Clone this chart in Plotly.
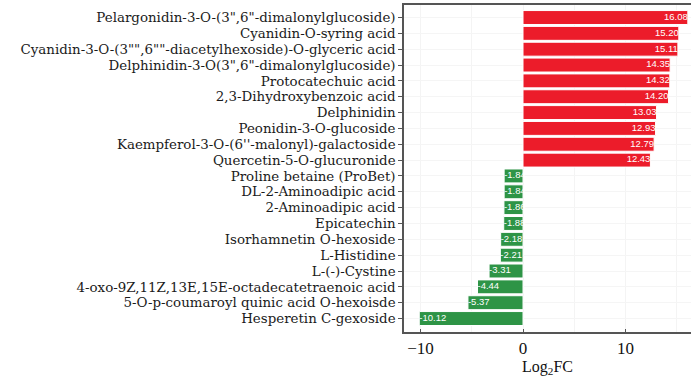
import plotly.graph_objects as go

compounds = [
    'Pelargonidin-3-O-(3",6"-dimalonylglucoside)',
    "Cyanidin-O-syring acid",
    'Cyanidin-3-O-(3"",6""-diacetylhexoside)-O-glyceric acid',
    'Delphinidin-3-O(3",6"-dimalonylglucoside)',
    "Protocatechuic acid",
    "2,3-Dihydroxybenzoic acid",
    "Delphinidin",
    "Peonidin-3-O-glucoside",
    "Kaempferol-3-O-(6''-malonyl)-galactoside",
    "Quercetin-5-O-glucuronide",
    "Proline betaine (ProBet)",
    "DL-2-Aminoadipic acid",
    "2-Aminoadipic acid",
    "Epicatechin",
    "Isorhamnetin O-hexoside",
    "L-Histidine",
    "L-(-)-Cystine",
    "4-oxo-9Z,11Z,13E,15E-octadecatetraenoic acid",
    "5-O-p-coumaroyl quinic acid O-hexoisde",
    "Hesperetin C-gexoside",
]
log2fc = [16.08, 15.20, 15.11, 14.35, 14.32, 14.20, 13.03, 12.93, 12.79, 12.43,
          -1.84, -1.84, -1.86, -1.88, -2.18, -2.21, -3.31, -4.44, -5.37, -10.12]
x_ticks = [-10, 0, 10]

UP_COLOR = "#ec1c2a"
DOWN_COLOR = "#2e9446"
bar_colors = [UP_COLOR if v > 0 else DOWN_COLOR for v in log2fc]

fig = go.Figure()
fig.add_trace(go.Bar(
    x=log2fc,
    y=compounds,
    orientation="h",
    marker=dict(color=bar_colors, line=dict(color="white", width=1)),
    width=0.88,
    hoverinfo="x+y",
))
# value labels sit just inside the outer end of each bar
fig.add_trace(go.Scatter(
    x=log2fc,
    y=compounds,
    mode="text",
    text=[f"{v:.2f}" for v in log2fc],
    textposition=["middle left" if v > 0 else "middle right" for v in log2fc],
    textfont=dict(family="Liberation Sans, Arial", size=9.5, color="white"),
    hoverinfo="skip",
))

fig.update_layout(
    width=691, height=377,
    margin=dict(l=404, r=0, t=5, b=45),
    paper_bgcolor="white",
    plot_bgcolor="white",
    showlegend=False,
    font=dict(family="Liberation Serif, Times New Roman, serif", color="#111"),
)

fig.update_xaxes(
    range=[-11.61, 16.39],
    tickvals=x_ticks,
    tickfont=dict(size=17, family="Liberation Serif"),
    showgrid=True, gridcolor="#f4f4f4", gridwidth=1,
    minor=dict(dtick=5, tick0=0, showgrid=True, gridcolor="#f4f4f4"),
    zeroline=False,
    showline=True, linecolor="#555", linewidth=1.5, mirror=True,
    ticks="inside", ticklen=3, tickcolor="#555",
    title=dict(text="Log<sub>2</sub>FC", font=dict(size=16, family="Liberation Serif"), standoff=4),
)
fig.update_yaxes(
    range=[19.85, -0.79],
    tickmode="array",
    tickvals=compounds,
    tickfont=dict(size=13.4, family="DejaVu Serif", color="#1a1a1a"),
    showgrid=True, gridcolor="#f5f5f5",
    showline=True, linecolor="#555", linewidth=1.5,
    ticks="outside", ticklen=4, tickcolor="#555", tickwidth=1,
    ticklabelstandoff=0,
)

fig.write_html("out.html")
